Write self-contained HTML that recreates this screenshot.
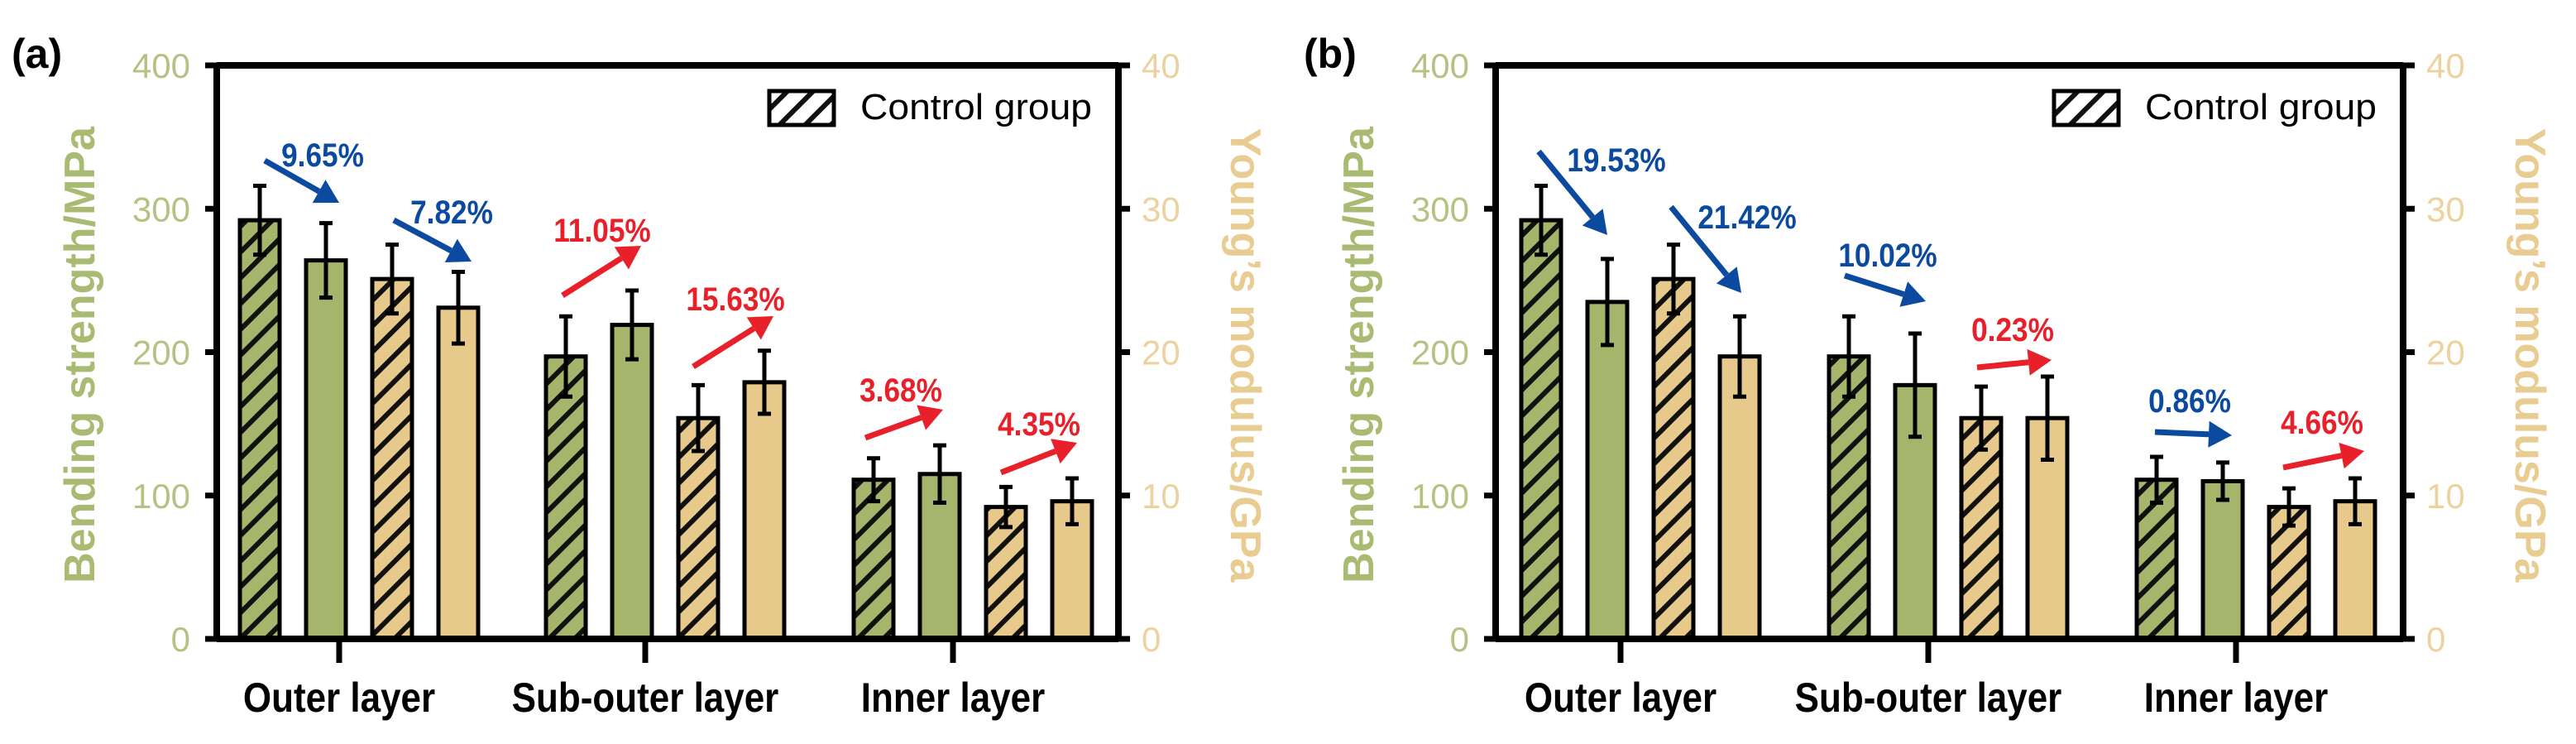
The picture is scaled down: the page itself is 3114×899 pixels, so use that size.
<!DOCTYPE html>
<html><head><meta charset="utf-8">
<style>
html,body{margin:0;padding:0;background:#fff;}
svg{display:block;}
text{font-family:"Liberation Sans",Arial,sans-serif;}
</style></head>
<body>
<svg id="chart" width="3114" height="899" viewBox="0 0 3114 899" xmlns="http://www.w3.org/2000/svg">
<defs>
<pattern id="hatchG" patternUnits="userSpaceOnUse" width="22" height="22" patternTransform="rotate(45)">
<rect width="22" height="22" fill="#a5b56b"/><rect x="0" y="0" width="6" height="22" fill="#111"/></pattern>
<pattern id="hatchY" patternUnits="userSpaceOnUse" width="22" height="22" patternTransform="rotate(45)">
<rect width="22" height="22" fill="#e8c98c"/><rect x="0" y="0" width="6" height="22" fill="#111"/></pattern>
<pattern id="hatchW" patternUnits="userSpaceOnUse" width="22" height="22" patternTransform="rotate(45)">
<rect width="22" height="22" fill="#fff"/><rect x="0" y="0" width="6" height="22" fill="#111"/></pattern>
</defs>
</svg>
<script>
const categories = ["Outer layer","Sub-outer layer","Inner layer"];
const yTicks = [0,100,200,300,400];
const y2Ticks = [0,10,20,30,40];
const aStrengthCtrl = [292,197,111];
const aStrengthCtrlErr = [24,28,15];
const aStrengthTreat = [264,219,115];
const aStrengthTreatErr = [26,24,20];
const aModCtrl = [25.1,15.4,9.2];
const aModCtrlErr = [2.4,2.3,1.4];
const aModTreat = [23.1,17.9,9.6];
const aModTreatErr = [2.5,2.2,1.6];
const aLabels = ["9.65%","7.82%","11.05%","15.63%","3.68%","4.35%"];
const bStrengthCtrl = [292,197,111];
const bStrengthCtrlErr = [24,28,16];
const bStrengthTreat = [235,177,110];
const bStrengthTreatErr = [30,36,13];
const bModCtrl = [25.1,15.4,9.2];
const bModCtrlErr = [2.4,2.2,1.3];
const bModTreat = [19.7,15.4,9.6];
const bModTreatErr = [2.8,2.9,1.6];
const bLabels = ["19.53%","21.42%","10.02%","0.23%","0.86%","4.66%"];

const NS="http://www.w3.org/2000/svg";
const svg=document.getElementById('chart');
function mk(tag,attrs,parent){const e=document.createElementNS(NS,tag);for(const k in attrs)e.setAttribute(k,attrs[k]);(parent||svg).appendChild(e);return e;}

const panels=[
 {ox:0,left:262,right:1352,letter:"(a)",sc:aStrengthCtrl,sce:aStrengthCtrlErr,st:aStrengthTreat,ste:aStrengthTreatErr,mc:aModCtrl,mce:aModCtrlErr,mt:aModTreat,mte:aModTreatErr,labels:aLabels,
  gx:[314,684,1056],
  arrows:[[320,194,410,245,"#0b4a9e"],[476,266,570,316,"#0b4a9e"],[680,357,775,297,"#e8202a"],[838,443,935,382,"#e8202a"],[1046,529,1140,495,"#e8202a"],[1210,571,1302,535,"#e8202a"]],
  lpos:[[390,187],[546,256],[728,278],[889,361],[1089,471],[1256,512]]},
 {ox:1560,left:248,right:1345,letter:"(b)",sc:bStrengthCtrl,sce:bStrengthCtrlErr,st:bStrengthTreat,ste:bStrengthTreatErr,mc:bModCtrl,mce:bModCtrlErr,mt:bModTreat,mte:bModTreatErr,labels:bLabels,
  gx:[303,675,1047],
  arrows:[[300,183,383,284,"#0b4a9e"],[460,250,545,354,"#0b4a9e"],[670,333,768,364,"#0b4a9e"],[830,444,920,435,"#e8202a"],[1045,522,1138,526,"#0b4a9e"],[1200,565,1298,545,"#e8202a"]],
  lpos:[[394,193],[552,262],[722,308],[873,398],[1087,484],[1247,510]]}
];
const plotTop=79,plotBot=772;
function Y(v){return plotBot-(v/400)*(plotBot-plotTop);}
function Y2(v){return plotBot-(v/40)*(plotBot-plotTop);}

panels.forEach((p,pi)=>{
 const g=mk('g',{transform:`translate(${p.ox},0)`});
 
 
 const L=p.left,R=p.right;
 const lt=mk('text',{x:p.ox===0?14:16,y:82,'font-size':50,'font-weight':'bold',fill:'#000'},g);lt.textContent=p.letter;
 
 
 const series=[[p.sc,p.sce,'url(#hatchG)',false],[p.st,p.ste,'#a5b56b',false],[p.mc,p.mce,'url(#hatchY)',true],[p.mt,p.mte,'#e8c98c',true]];
 const bw=48;
 categories.forEach((c,ci)=>{
  series.forEach((s,si)=>{
   const x=p.gx[ci]-24+si*80;
   const v=s[0][ci],e=s[1][ci];
   const yv=s[3]?Y2(v):Y(v);
   const ye1=s[3]?Y2(v+e):Y(v+e), ye2=s[3]?Y2(v-e):Y(v-e);
   const r=mk('rect',{x:x,y:yv,width:bw,height:plotBot-yv,fill:s[2],stroke:'#000','stroke-width':5},g);
   
   
   const eb=mk('path',{d:`M${x+bw/2},${ye1}V${ye2}M${x+bw/2-8},${ye1}h16M${x+bw/2-8},${ye2}h16`,stroke:'#000','stroke-width':5,fill:'none'},g);
   
   
  });
  const cx=p.gx[ci]+96;
  const tk=mk('line',{x1:cx,y1:plotBot,x2:cx,y2:801,stroke:'#000','stroke-width':7},g);
  
  
  const ct=mk('text',{x:cx,y:860,'text-anchor':'middle','font-size':50,'font-weight':'bold',fill:'#000',transform:`translate(${cx},0) scale(0.88,1) translate(${-cx},0)`},g);
  ct.textContent=c;
  
  
 });
 const ax=mk('path',{d:`M${L},${plotTop}H${R}M${L},${plotBot}H${R}M${L},${plotTop-3}V${plotBot+3}M${R},${plotTop-3}V${plotBot+3}`,stroke:'#000','stroke-width':8,fill:'none'},g);
 
 
 yTicks.forEach(t=>{
  const y=Y(t);
  mk('line',{x1:L-14,y1:y,x2:L,y2:y,stroke:'#000','stroke-width':7},g);
  const tx=mk('text',{x:L-32,y:y+15,'text-anchor':'end','font-size':42,fill:'#b4c384'},g);tx.textContent=t;
  
  
 });
 y2Ticks.forEach(t=>{
  const y=Y2(t);
  mk('line',{x1:R,y1:y,x2:R+14,y2:y,stroke:'#000','stroke-width':7},g);
  const tx=mk('text',{x:R+28,y:y+15,'font-size':42,fill:'#ecd29e'},g);tx.textContent=t;
  
  
 });
 const yt=mk('text',{x:0,y:0,'text-anchor':'middle','font-size':52,'font-weight':'bold',fill:'#a9ba72',transform:`translate(${L-148},429) rotate(-90)`},g);
 yt.textContent='Bending strength/MPa';
 
 
 const yt2=mk('text',{x:0,y:0,'text-anchor':'middle','font-size':52,'font-weight':'bold',fill:'#e8cc92',transform:`translate(${R+136},429) rotate(90)`},g);
 yt2.textContent='Young\u2019s modulus/GPa';
 
 
 const lr=mk('rect',{x:R-422,y:110,width:78,height:41,fill:'url(#hatchW)',stroke:'#000','stroke-width':5},g);
 
 
 const ltx=mk('text',{x:R-312,y:144,'font-size':44,fill:'#000',textLength:280,lengthAdjust:'spacingAndGlyphs'},g);ltx.textContent='Control group';
 
 
 p.arrows.forEach((a,ai)=>{
  const [x1,y1,x2,y2,col]=a;
  const dx=x2-x1,dy=y2-y1,len=Math.hypot(dx,dy),ux=dx/len,uy=dy/len;
  const hl=28,hw=16;
  const bx=x2-ux*hl,by=y2-uy*hl;
  const ar=mk('g',{},g);
  
  
  mk('line',{x1:x1,y1:y1,x2:bx,y2:by,stroke:col,'stroke-width':7},ar);
  mk('polygon',{points:`${x2},${y2} ${bx-uy*hw},${by+ux*hw} ${bx+uy*hw},${by-ux*hw}`,fill:col},ar);
  const lp=p.lpos[ai];
  const t=mk('text',{x:lp[0],y:lp[1]+14,'text-anchor':'middle','font-size':40,'font-weight':'bold',fill:col,transform:`translate(${lp[0]},0) scale(0.88,1) translate(${-lp[0]},0)`},g);
  t.textContent=p.labels[ai];
  
  
 });
});
</script>
</body></html>
